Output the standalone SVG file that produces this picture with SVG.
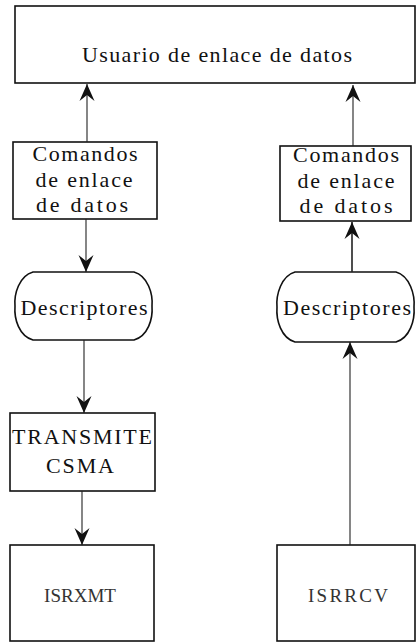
<svg xmlns="http://www.w3.org/2000/svg" width="416" height="642" viewBox="0 0 416 642">
<style>
.box{fill:#fff;stroke:#111;stroke-width:1.6}
.t{font-family:"Liberation Serif","Times New Roman",serif;font-size:22px;fill:#111;text-anchor:middle}
.s{font-size:19px;fill:#333}
.c{stroke:#222;stroke-width:1.1;fill:none}
</style>
<defs>
<marker id="ah" viewBox="-17 -8 18 16" markerWidth="18" markerHeight="16" refX="0" refY="0" orient="auto" markerUnits="userSpaceOnUse">
<path d="M0,0 L-17,-7.5 L-11,0 L-17,7.5 Z" fill="#111"/>
</marker>
</defs>
<g id="usuario">
<rect class="box" x="15" y="6" width="400" height="77"/>
<text class="t" x="217" y="62" textLength="270" lengthAdjust="spacing">Usuario de enlace de datos</text>
</g>
<g id="comandos-tx">
<rect class="box" x="13" y="142" width="144" height="77"/>
<text class="t" x="85" y="161" textLength="105" lengthAdjust="spacing">Comandos</text>
<text class="t" x="84" y="187" textLength="97" lengthAdjust="spacing">de enlace</text>
<text class="t" x="82" y="212" textLength="92" lengthAdjust="spacing">de datos</text>
</g>
<g id="comandos-rx">
<rect class="box" x="280" y="146" width="131" height="75"/>
<text class="t" x="346" y="162" textLength="106" lengthAdjust="spacing">Comandos</text>
<text class="t" x="346" y="188" textLength="97" lengthAdjust="spacing">de enlace</text>
<text class="t" x="346" y="213" textLength="93" lengthAdjust="spacing">de datos</text>
</g>
<g id="descriptores-tx">
<path class="box" d="M33,272 H134 C148,276 153,294 152,306 C153,319 148,336 134,340 H33 C19,336 14,319 15,306 C14,294 19,276 33,272 Z"/>
<text class="t" x="84" y="315" textLength="127" lengthAdjust="spacing">Descriptores</text>
</g>
<g id="descriptores-rx">
<path class="box" d="M295,272 H396 C410,276 415,295 414,307 C415,320 410,338 396,342 H295 C281,338 276,320 277,307 C276,295 281,276 295,272 Z"/>
<text class="t" x="347" y="315" textLength="128" lengthAdjust="spacing">Descriptores</text>
</g>
<g id="transmite">
<rect class="box" x="10" y="413" width="145" height="78"/>
<text class="t" x="82" y="444" textLength="140" lengthAdjust="spacing" fill="#222">TRANSMITE</text>
<text class="t" x="80" y="473" textLength="68" lengthAdjust="spacing" fill="#333">CSMA</text>
</g>
<g id="isrxmt">
<rect class="box" x="10" y="545" width="144" height="96"/>
<text class="t s" x="80" y="602">ISRXMT</text>
</g>
<g id="isrrcv">
<rect class="box" x="277" y="545" width="138" height="96"/>
<text class="t s" x="348" y="602" textLength="80" lengthAdjust="spacing">ISRRCV</text>
</g>
<g id="connectors">
<line class="c" x1="87" y1="142" x2="87" y2="84" marker-end="url(#ah)"/>
<line class="c" x1="353" y1="146" x2="353" y2="85" marker-end="url(#ah)"/>
<line class="c" x1="86" y1="219" x2="86" y2="272" marker-end="url(#ah)"/>
<line class="c" x1="352" y1="272" x2="352" y2="222" marker-end="url(#ah)" style="stroke-width:1.6"/>
<line class="c" x1="84" y1="340" x2="84" y2="413" marker-end="url(#ah)"/>
<line class="c" x1="350" y1="545" x2="350" y2="342" marker-end="url(#ah)"/>
<line class="c" x1="82" y1="491" x2="82" y2="545" marker-end="url(#ah)"/>
</g>
</svg>
